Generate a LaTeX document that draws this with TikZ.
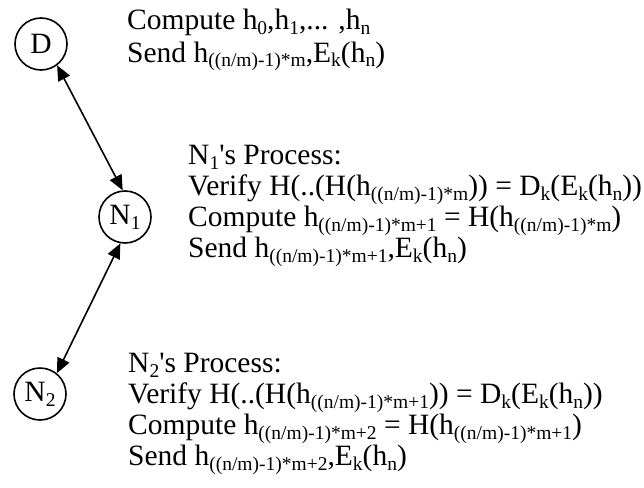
\documentclass[tikz,border=0pt]{standalone}
\usepackage{fontspec}
\setmainfont{Liberation Serif}
\usetikzlibrary{arrows.meta}
\newcommand\lw[1]{\raisebox{-5pt}{\fontsize{19.5}{19.5}\selectfont #1}}
\tikzset{
  party/.style={draw, circle, line width=1.6pt, minimum size=52pt, inner sep=0pt, font=\fontsize{29.5}{32}\selectfont},
  txt/.style={anchor=base west, inner sep=0pt, font=\fontsize{29.5}{32}\selectfont},
  link/.style={line width=1.6pt, {Triangle[length=15pt,width=13pt]}-{Triangle[length=15pt,width=13pt]}}
}
\begin{document}
\begin{tikzpicture}[x=1pt,y=-1pt]
\useasboundingbox (0,0) rectangle (644,487);
\node[party] (D) at (41,44) {D};
\node[party] (N1) at (125,217) {N\lw{1}};
\node[party] (N2) at (40,394) {N\lw{2}};
\draw[link] (D.-53) -- (N1.95);
\draw[link] (N1.-100) -- (N2.51);
\node[txt] (a1) at (127,30) {Compute h\lw{0},h\lw{1},... ,h\lw{n}};
\node[txt] (a2) at (127,62) {Send h\lw{((n/m)-1)*m},E\lw{k}(h\lw{n})};
\node[txt] (b1) at (188,164) {N\lw{1}\textquotesingle s Process:};
\node[txt] (b2) at (188,195) {Verify H(..(H(h\lw{((n/m)-1)*m})) = D\lw{k}(E\lw{k}(h\lw{n}))};
\node[txt] (b3) at (188,226) {Compute h\lw{((n/m)-1)*m+1} = H(h\lw{((n/m)-1)*m})};
\node[txt] (b4) at (188,257) {Send h\lw{((n/m)-1)*m+1},E\lw{k}(h\lw{n})};
\node[txt] (c1) at (128,372) {N\lw{2}\textquotesingle s Process:};
\node[txt] (c2) at (128,403) {Verify H(..(H(h\lw{((n/m)-1)*m+1})) = D\lw{k}(E\lw{k}(h\lw{n}))};
\node[txt] (c3) at (128,434) {Compute h\lw{((n/m)-1)*m+2} = H(h\lw{((n/m)-1)*m+1})};
\node[txt] (c4) at (128,465) {Send h\lw{((n/m)-1)*m+2},E\lw{k}(h\lw{n})};
\end{tikzpicture}
\end{document}
